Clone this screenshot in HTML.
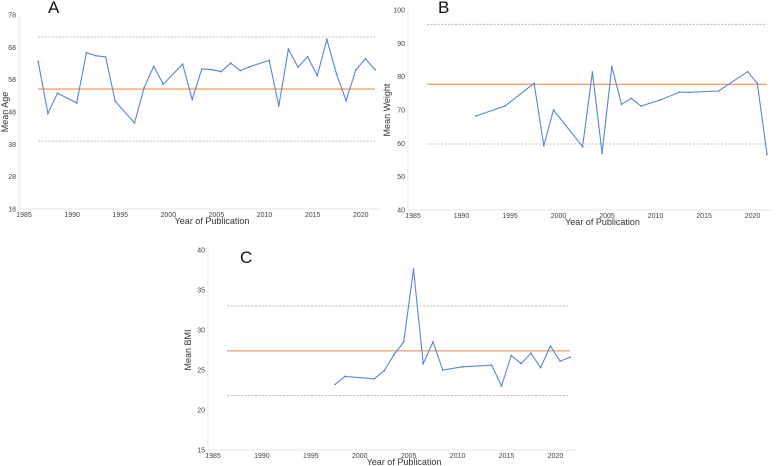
<!DOCTYPE html>
<html><head><meta charset="utf-8">
<style>
html,body{margin:0;padding:0;background:#fff;}
svg{display:block;font-family:"Liberation Sans",sans-serif;}
</style></head>
<body>
<svg id="chart" width="777" height="466" viewBox="0 0 777 466"></svg>
<script>
const yearsA=[1987,1988,1989,1991,1992,1993,1994,1995,1997,1998,1999,2000,2002,2003,2004,2005,2006,2007,2008,2009,2011,2012,2013,2014,2015,2016,2017,2018,2019,2020,2021,2022];
const valuesA=[63.6,47.5,53.8,50.8,66.3,65.4,65.0,51.3,44.6,55.5,62.1,56.6,62.8,51.9,61.3,61.1,60.5,63.1,60.8,62.0,64.0,49.9,67.4,61.9,65.1,59.3,70.4,59.8,51.5,61.0,64.5,61.1];
const refA=[55.1,71.2,39.0];
const ticksA=[18,28,38,48,58,68,78];
const yearsB=[1992,1995,1998,1999,2000,2003,2004,2005,2006,2007,2008,2009,2011,2013,2014,2017,2020,2021,2022];
const valuesB=[68.2,71.2,78.0,59.3,70.0,59.0,81.4,57.0,83.0,71.7,73.5,71.2,73.0,75.4,75.3,75.7,81.5,78.0,56.7];
const refB=[77.7,95.7,59.8];
const ticksB=[40,50,60,70,80,90,100];
const yearsC=[1998,1999,2002,2003,2004,2005,2006,2007,2008,2009,2011,2014,2015,2016,2017,2018,2019,2020,2021,2022];
const valuesC=[23.2,24.2,23.9,24.9,26.9,28.5,37.6,25.8,28.5,25.0,25.4,25.6,23.0,26.8,25.8,27.1,25.3,28.0,26.1,26.6];
const refC=[27.4,33.0,21.8];
const ticksC=[15,20,25,30,35,40];
const xTicks=[1985,1990,1995,2000,2005,2010,2015,2020];

const NS="http://www.w3.org/2000/svg";
const svg=document.getElementById('chart');
function mk(tag,attrs,parent){const e=document.createElementNS(NS,tag);for(const k in attrs)e.setAttribute(k,attrs[k]);(parent||svg).appendChild(e);return e;}

function panel(p){
  const g=mk('g',{});
  
  
  const x=v=>p.x0+(v-1985)*(p.x1-p.x0)/37;
  const y=v=>p.yb-(v-p.ymin)*(p.yb-p.yt)/(p.ymax-p.ymin);
  const ax=mk('line',{x1:p.x0,y1:p.yt,x2:p.x0,y2:p.yb,stroke:'#e4e4e4','stroke-width':1},g);
  
  const bx=mk('line',{x1:p.x0,y1:p.yb,x2:p.x1+6,y2:p.yb,stroke:'#e4e4e4','stroke-width':1},g);
  
  p.ticks.forEach(t=>{
    const tx=mk('text',{x:p.x0-3,y:y(t)+2.5,'font-size':7,'text-anchor':'end',fill:'#444'},g);
    tx.textContent=t;
    
  });
  xTicks.forEach(t=>{
    const tx=mk('text',{x:x(t)+5,y:p.yb+8,'font-size':7,'text-anchor':'middle',fill:'#444'},g);
    tx.textContent=t;
    
  });
  const xt=mk('text',{x:(p.x0+p.x1)/2+15,y:p.yb+15,'font-size':9,'text-anchor':'middle',fill:'#333'},g);
  xt.textContent='Year of Publication';
  
  const yc=(p.yt+p.yb)/2;
  const yt=mk('text',{x:p.ytx,y:yc,'font-size':9,'text-anchor':'middle',fill:'#333',transform:`rotate(-90 ${p.ytx} ${yc})`},g);
  yt.textContent=p.ylabel;
  
  const lt=mk('text',{x:p.lx,y:p.ly,'font-size':17,fill:'#111'},g);
  lt.textContent=p.letter;
  
  p.ref.forEach((r,i)=>{
    const l=mk('line',{x1:p.x0+19,x2:p.x1,y1:y(r),y2:y(r),stroke:i===0?'#f4a46c':'#aaaaaa','stroke-width':i===0?1.3:0.8,'stroke-dasharray':i===0?'':'2,1.5'},g);
    
    
  });
  const pts=p.years.map((yr,i)=>x(yr).toFixed(1)+','+y(p.vals[i]).toFixed(1)).join(' ');
  const pl=mk('polyline',{points:pts,fill:'none',stroke:'#5b84d6','stroke-width':1.1},g);
  
  p.years.forEach((yr,i)=>{
    const c=mk('circle',{cx:x(yr),cy:y(p.vals[i]),r:0.9,fill:'#5b84d6'},g);
    
  });
}
panel({id:'panel-a-age',x0:19,x1:375,yt:15,yb:209,ymin:18,ymax:78,ticks:ticksA,years:yearsA,vals:valuesA,ref:refA,ylabel:'Mean Age',ytx:8,letter:'A',lx:48,ly:13});
panel({id:'panel-b-weight',x0:408,x1:767,yt:10,yb:210,ymin:40,ymax:100,ticks:ticksB,years:yearsB,vals:valuesB,ref:refB,ylabel:'Mean Weight',ytx:390,letter:'B',lx:438,ly:13});
panel({id:'panel-c-bmi',x0:208,x1:570,yt:250,yb:450,ymin:15,ymax:40,ticks:ticksC,years:yearsC,vals:valuesC,ref:refC,ylabel:'Mean BMI',ytx:191,letter:'C',lx:240,ly:263});
</script>
</body></html>
